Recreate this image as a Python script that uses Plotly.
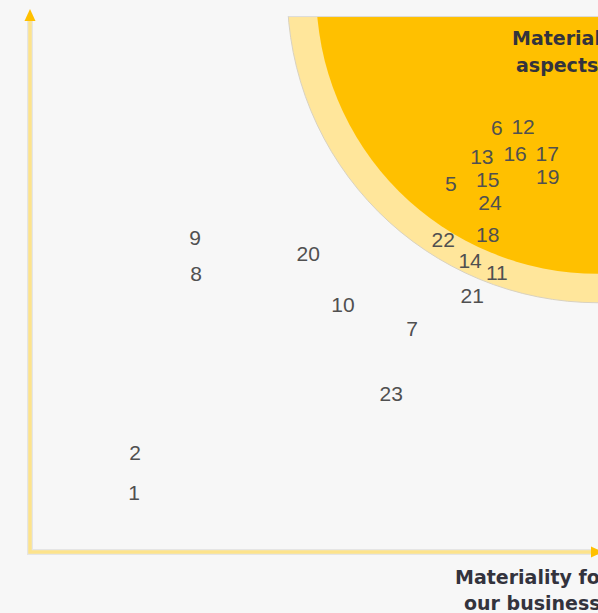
import numpy as np
import plotly.graph_objects as go

# Materiality matrix data (x: materiality for our business, y: materiality for stakeholders)
labels = ["1", "2", "9", "8", "20", "10", "7", "23", "21", "14", "11", "22",
          "18", "5", "15", "24", "13", "16", "17", "19", "6", "12"]
x_vals = [19.4, 19.6, 30.8, 31.0, 51.9, 58.4, 71.3, 67.4, 82.5, 82.1, 87.1, 77.1,
          85.4, 78.5, 85.4, 85.8, 84.3, 90.5, 96.5, 96.6, 87.1, 92.0]
y_vals = [10.6, 18.1, 58.2, 51.5, 55.2, 45.7, 41.2, 29.1, 47.5, 53.9, 51.8, 57.8,
          58.9, 68.4, 69.0, 64.7, 73.3, 74.0, 74.0, 69.7, 78.7, 78.9]

zone_label = ["Material", "aspects"]
x_axis_title = ["Materiality for", "our business"]

# Zone (circle) parameters in data units
zone_center = (106.0, 104.5)
zone_outer_r = 58.0
zone_inner_r = 52.6

BG = "#f7f7f7"
GOLD = "#FFC000"
LIGHT = "#FFE69B"
AXIS = "#FDE38C"

X_RANGE = [-5.597, 105.97]
Y_RANGE = [-11.381, 100.0]

W, H, TOP = 598, 613, 16


def px_to_paper(px, py):
    return px / W, (H - py) / (H - TOP)


fig = go.Figure()

# axis shadows and lines
fig.add_trace(go.Scatter(x=[0, 0, 105.97], y=[99.3, 0, 0], mode="lines",
                         line=dict(color="rgba(0,0,0,0.07)", width=6),
                         cliponaxis=False, hoverinfo="skip", showlegend=False))
fig.add_trace(go.Scatter(x=[0, 0, 105.97], y=[99.3, 0, 0], mode="lines",
                         line=dict(color=AXIS, width=3.5),
                         cliponaxis=False, hoverinfo="skip", showlegend=False))

# arrow heads (decoration, paper coords)
def tri(pts):
    p = [px_to_paper(a, b) for a, b in pts]
    return "M %f %f L %f %f L %f %f Z" % (p[0][0], p[0][1], p[1][0], p[1][1], p[2][0], p[2][1])

fig.add_shape(type="path", xref="paper", yref="paper", layer="above",
              path=tri([(24.5, 21), (35.5, 21), (30, 9)]),
              fillcolor=GOLD, line=dict(width=0))
fig.add_shape(type="path", xref="paper", yref="paper", layer="above",
              path=tri([(591, 546.5), (591, 557.5), (603, 552)]),
              fillcolor=GOLD, line=dict(width=0))

# numbered aspects
fig.add_trace(go.Scatter(x=x_vals, y=y_vals, mode="text", text=labels,
                         textposition="middle center",
                         textfont=dict(family="Liberation Sans, Arial", size=21, color="#505050"),
                         hoverinfo="skip", showlegend=False))

cx, cy = zone_center
fig.add_shape(type="circle", xref="x", yref="y", layer="below",
              x0=cx - zone_outer_r, x1=cx + zone_outer_r,
              y0=cy - zone_outer_r, y1=cy + zone_outer_r,
              fillcolor=LIGHT, line=dict(color="#d9d2c0", width=1))
fig.add_shape(type="circle", xref="x", yref="y", layer="below",
              x0=cx - zone_inner_r, x1=cx + zone_inner_r,
              y0=cy - zone_inner_r, y1=cy + zone_inner_r,
              fillcolor=GOLD, line=dict(width=0))
# thin top edge of the zone
fig.add_shape(type="line", xref="x", yref="y", layer="below",
              x0=cx - np.sqrt(zone_outer_r**2 - (cy - 99.9)**2), x1=X_RANGE[1],
              y0=99.9, y1=99.9, line=dict(color="#dcdcdc", width=1))

# zone label
for i, t in enumerate(zone_label):
    fig.add_annotation(x=98.3, y=95.9 - 5.0 * i, text="<b>%s</b>" % t, showarrow=False,
                       xanchor="center", yanchor="middle",
                       font=dict(family="DejaVu Sans", size=19, color="#33333d"))
# x-axis title
for i, t in enumerate(x_axis_title):
    fig.add_annotation(x=93.8, y=-4.66 - 4.85 * i, text="<b>%s</b>" % t, showarrow=False,
                       xanchor="center", yanchor="middle",
                       font=dict(family="DejaVu Sans", size=19, color="#33333d"))

fig.update_layout(
    width=W, height=H,
    margin=dict(l=0, r=0, t=TOP, b=0),
    paper_bgcolor=BG, plot_bgcolor=BG,
    xaxis=dict(range=X_RANGE, visible=False, fixedrange=True),
    yaxis=dict(range=Y_RANGE, visible=False, fixedrange=True),
    showlegend=False,
)

fig.write_html("out.html")
